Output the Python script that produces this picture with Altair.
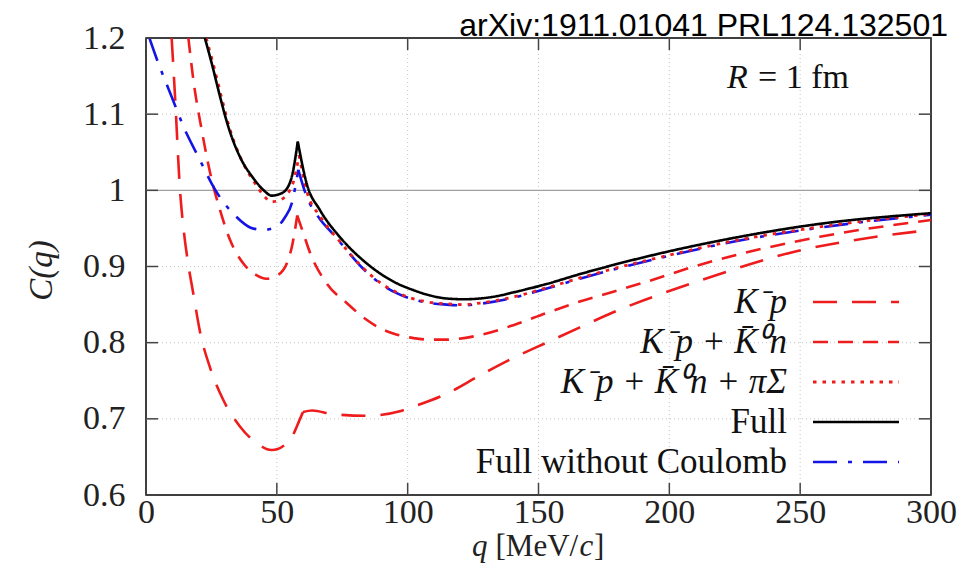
import altair as alt
import pandas as pd

# ---------------- data ----------------
Q_KP = [9.8, 11.1, 13.0, 14.5, 16.2, 18.1, 20.6, 24.5, 29.5, 35.9, 42.3, 48.0, 53.8, 56.5, 58.5, 60.0,
        63.5, 71.6, 84.3, 89.4, 97.0, 102.2, 114.9, 127.6, 140.4, 153.1, 165.8, 178.6, 191.3, 210.4,
        248.6, 279.0, 300.0]
C_KP = [1.200, 1.123, 1.000, 0.945, 0.902, 0.864, 0.815, 0.767, 0.725, 0.690, 0.668, 0.659, 0.668, 0.681, 0.697, 0.709,
        0.711, 0.706, 0.704, 0.705, 0.710, 0.716, 0.733, 0.757, 0.780, 0.800, 0.820, 0.840, 0.857, 0.880,
        0.920, 0.939, 0.948]

Q_KN = [16.2, 18.1, 21.3, 25.1, 28.3, 32.1, 37.2, 42.0, 46.1, 50.0, 53.8, 56.0, 57.8, 60.0, 62.7, 69.0,
        76.7, 84.3, 89.4, 94.5, 102.2, 108.5, 114.9, 127.6, 140.4, 153.1, 165.8, 178.6, 191.3, 210.4,
        257.5, 300.0]
C_KN = [1.200, 1.145, 1.079, 1.014, 0.974, 0.935, 0.904, 0.889, 0.884, 0.888, 0.904, 0.930, 0.967, 0.945, 0.918, 0.878,
        0.852, 0.830, 0.819, 0.812, 0.806, 0.804, 0.804, 0.810, 0.823, 0.839, 0.854, 0.867, 0.880, 0.901,
        0.939, 0.961]

Q_PS = [23.0, 25.6, 28.8, 32.0, 36.5, 41.5, 45.0, 48.0, 51.0, 54.0, 56.5, 58.5, 61.5, 66.5, 74.0, 83.0,
        89.4, 95.8, 108.5, 114.9, 121.3, 127.6, 140.4, 153.1, 165.8, 178.6, 200.0, 219.3, 257.5, 300.0]
C_PS = [1.200, 1.167, 1.123, 1.081, 1.040, 1.010, 0.993, 0.985, 0.987, 0.995, 1.013, 1.046, 0.998, 0.966, 0.933, 0.898,
        0.879, 0.866, 0.853, 0.851, 0.850, 0.852, 0.860, 0.872, 0.885, 0.897, 0.915, 0.930, 0.952, 0.969]

Q_FULL = [22.5, 25.1, 28.3, 31.5, 35.9, 41.0, 45.0, 48.0, 51.0, 53.8, 56.0, 58.0, 61.4, 66.5, 74.0, 83.0,
          89.4, 95.8, 102.2, 108.5, 114.9, 121.3, 127.6, 134.0, 140.4, 153.1, 165.8, 178.6, 200.0, 219.3,
          257.5, 300.0]
C_FULL = [1.200, 1.167, 1.123, 1.083, 1.044, 1.016, 1.000, 0.993, 0.995, 1.002, 1.022, 1.064, 1.009, 0.974, 0.939, 0.908,
          0.891, 0.878, 0.869, 0.862, 0.858, 0.857, 0.858, 0.861, 0.866, 0.877, 0.890, 0.902, 0.920, 0.934,
          0.956, 0.970]

Q_NC = [1.3, 4.7, 9.8, 14.3, 20.0, 26.4, 34.6, 40.0, 44.8, 49.9, 53.0, 55.7, 58.2, 61.4, 66.5, 70.3, 74.1,
        83.0, 89.4, 95.8, 108.5, 114.9, 121.3, 127.6, 140.4, 153.1, 165.8, 178.6, 200.0, 219.3, 257.5, 300.0]
C_NC = [1.200, 1.167, 1.123, 1.084, 1.044, 1.001, 0.965, 0.951, 0.948, 0.952, 0.964, 0.983, 1.027, 0.992, 0.962, 0.947, 0.932,
        0.897, 0.878, 0.865, 0.852, 0.850, 0.849, 0.851, 0.859, 0.871, 0.884, 0.896, 0.914, 0.929, 0.951, 0.968]

# cusp position of each curve (the curve is split there so the corner stays sharp)
CUSP = {"kp": 60.0, "kn": 57.8, "ps": 58.5, "full": 58.0, "nc": 58.2}

LABELS = {"kp": "K\u207bp",
          "kn": "K\u207bp + K\u0304\u2070n",
          "ps": "K\u207bp + K\u0304\u2070n + \u03c0\u03a3",
          "full": "Full",
          "nc": "Full without Coulomb"}

X_TICKS = [0, 50, 100, 150, 200, 250, 300]
Y_TICKS = [0.6, 0.7, 0.8, 0.9, 1.0, 1.1, 1.2]
X_GRID = [50, 100, 150, 200, 250]
Y_GRID = [0.7, 0.8, 0.9, 1.1]
Y_REF = [1.0]
TITLE = "arXiv:1911.01041 PRL124.132501"
X_TITLE_PARTS = [("q", True), ("[MeV/", False), ("c", True), ("]", False)]
Y_TITLE = "C(q)"

# ---------------- build table ----------------
rows = []
for key, qs, cs in [("kp", Q_KP, C_KP), ("kn", Q_KN, C_KN), ("ps", Q_PS, C_PS),
                    ("full", Q_FULL, C_FULL), ("nc", Q_NC, C_NC)]:
    cq = CUSP[key]
    for q, c in zip(qs, cs):
        if q <= cq:
            rows.append({"series": key, "seg": 0, "q": q, "C": c})
        if q >= cq:
            rows.append({"series": key, "seg": 1, "q": q, "C": c})
df = pd.DataFrame(rows)

# ---------------- styling ----------------
W, H = 785, 457
SERIF = "Liberation Serif"
RED = "#ee1c1c"
BLUE = "#1414e6"
STYLE = {
    "kp": dict(color=RED, dash=[24, 15], width=2.6),
    "kn": dict(color=RED, dash=[15, 10], width=2.6),
    "nc": dict(color=BLUE, dash=[24, 11, 4, 11], width=2.6),
    "ps": dict(color=RED, dash=[3.5, 6], width=2.8),
    "full": dict(color="black", dash=[1, 0], width=2.6),
}
ITALIC = {"kp": True, "kn": True, "ps": True, "full": False, "nc": False}
ORDER_LEGEND = ["kp", "kn", "ps", "full", "nc"]
ORDER_DRAW = ["kp", "kn", "nc", "ps", "full"]

xs = alt.Scale(domain=[0, 300], nice=False, zero=False)
ys = alt.Scale(domain=[0.6, 1.2], nice=False, zero=False)

x_axis = alt.Axis(values=X_TICKS, ticks=False, domain=False, grid=False, labelFlush=False,
                  labelFont=SERIF, labelFontSize=34, labelColor="#222", labelPadding=0, title=None)
y_axis = alt.Axis(values=Y_TICKS, ticks=False, domain=False, grid=False,
                  labelExpr="datum.value == 1 ? '1' : format(datum.value, '.1f')",
                  labelFont=SERIF, labelFontSize=34, labelColor="#222", labelPadding=21,
                  title=Y_TITLE, titleFont=SERIF, titleFontSize=33, titleFontStyle="italic",
                  titleFontWeight="normal", titleColor="#222", titleX=-105, titleY=232,
                  titleAngle=-90, titleAlign="center", titleBaseline="middle")


def X(field="q:Q"):
    return alt.X(field, scale=xs, axis=x_axis)


def Y(field="C:Q"):
    return alt.Y(field, scale=ys, axis=y_axis)


def label(text, x, y, size, italic=False, align="left", baseline="middle", font=SERIF, color="#111"):
    return (alt.Chart(pd.DataFrame({"t": [text]}))
            .mark_text(align=align, baseline=baseline, font=font, fontSize=size, color=color,
                       fontStyle="italic" if italic else "normal")
            .encode(text="t:N", x=alt.value(x), y=alt.value(y)))


layers = []

# grid
layers.append(alt.Chart(pd.DataFrame({"q": X_GRID})).mark_rule(color="#c4c4c4", strokeDash=[1, 3], strokeWidth=1)
              .encode(x=X()))
layers.append(alt.Chart(pd.DataFrame({"C": Y_GRID})).mark_rule(color="#c4c4c4", strokeDash=[1, 3], strokeWidth=1)
              .encode(y=Y()))
layers.append(alt.Chart(pd.DataFrame({"C": Y_REF})).mark_rule(color="#a0a0a0", strokeWidth=1.2)
              .encode(y=Y()))

# curves
for key in ORDER_DRAW:
    st = STYLE[key]
    layers.append(
        alt.Chart(df[df.series == key]).mark_line(color=st["color"], strokeDash=st["dash"], strokeWidth=st["width"],
                                                  interpolate="monotone", clip=True)
        .encode(x=X(), y=Y(), detail="seg:N")
    )

# inward ticks on all four sides
tx = pd.DataFrame({"q": X_TICKS})
ty = pd.DataFrame({"C": Y_TICKS})
TCOL = "#444"
layers.append(alt.Chart(tx).mark_rule(color=TCOL, strokeWidth=1.5)
              .encode(x=X(), y=alt.value(H), y2=alt.value(H - 12)))
layers.append(alt.Chart(tx).mark_rule(color=TCOL, strokeWidth=1.5)
              .encode(x=X(), y=alt.value(0), y2=alt.value(12)))
layers.append(alt.Chart(ty).mark_rule(color=TCOL, strokeWidth=1.5)
              .encode(y=Y(), x=alt.value(0), x2=alt.value(12)))
layers.append(alt.Chart(ty).mark_rule(color=TCOL, strokeWidth=1.5)
              .encode(y=Y(), x=alt.value(W), x2=alt.value(W - 12)))

# legend (labels right-aligned, samples to the right)
LEG_TEXT_X = 641
LEG_LINE_X0, LEG_LINE_X1 = 667, 753
LEG_Y0, LEG_DY = 264, 40
for i, key in enumerate(ORDER_LEGEND):
    yy = LEG_Y0 + i * LEG_DY
    st = STYLE[key]
    layers.append(label(LABELS[key], LEG_TEXT_X, yy, 35, italic=ITALIC[key], align="right"))
    layers.append(alt.Chart(pd.DataFrame({"t": [key]}))
                  .mark_rule(color=st["color"], strokeDash=st["dash"], strokeWidth=st["width"])
                  .encode(x=alt.value(LEG_LINE_X0), x2=alt.value(LEG_LINE_X1), y=alt.value(yy)))

# x axis title, pieced so that q and c are italic
XT_Y = H + 52
for (txt, it), xx in zip(X_TITLE_PARTS, [326, 349.5, 433.5, 448]):
    layers.append(label(txt, xx, XT_Y, 31, italic=it, color="#222"))

# annotation R = 1 fm
layers.append(label("R", 581, 40, 34, italic=True))
layers.append(label("= 1 fm", 612, 40, 34))

# top right source label
layers.append(label(TITLE, 802, -2, 32, align="right", baseline="alphabetic", font="Liberation Sans", color="#000"))

chart = alt.layer(*layers).properties(
    width=W, height=H,
    padding={"left": 138, "top": 30, "right": 30, "bottom": 68},
    autosize=alt.AutoSizeParams(type="none"),
    background="white",
).configure_view(stroke="black", strokeWidth=1.5)

chart.save("out.html", embed_options={"renderer": "svg", "actions": False})
